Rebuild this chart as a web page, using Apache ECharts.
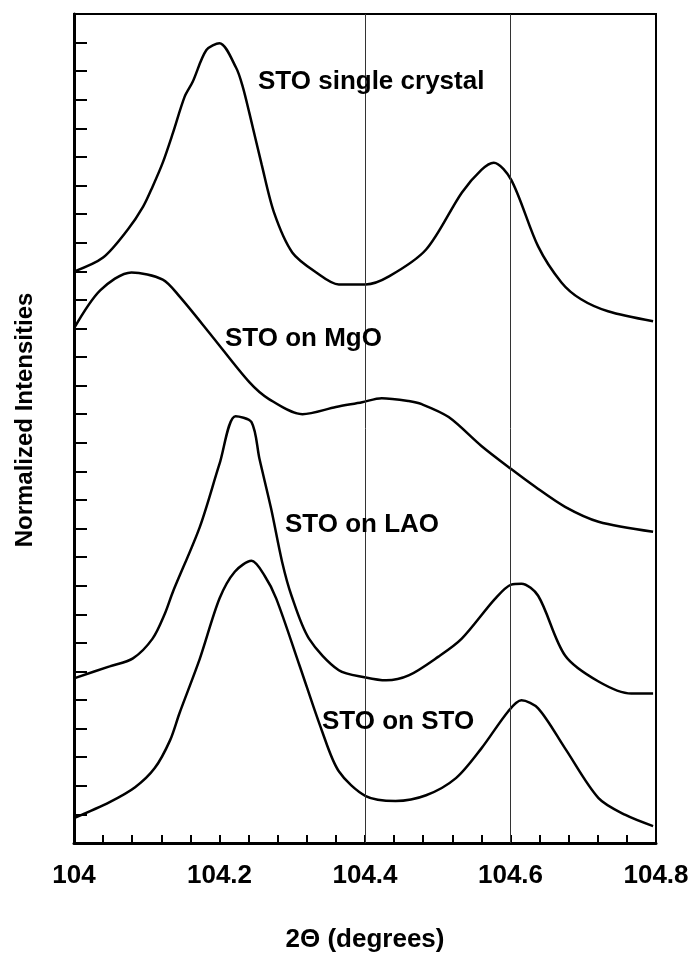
<!DOCTYPE html>
<html>
<head>
<meta charset="utf-8">
<script src="https://cdn.jsdelivr.net/npm/echarts@6/dist/echarts.min.js"></script>
<style>
html,body{margin:0;padding:0;background:#fff;}
#chart{width:692px;height:958px;}
</style>
</head>
<body>
<div id="chart"></div>
<script>
// 2-theta positions (degrees) and normalized intensities (arbitrary offset units)
var stoSingleX = [104.000,104.040,104.074,104.095,104.108,104.122,104.136,104.152,104.163,104.182,104.200,104.223,104.232,104.241,104.258,104.275,104.300,104.333,104.364,104.401,104.433,104.484,104.533,104.560,104.577,104.601,104.638,104.670,104.697,104.734,104.796];
var stoSingleY = [19.99,20.48,21.46,22.26,22.96,23.80,24.84,26.10,26.62,27.74,27.98,27.11,26.45,25.54,23.73,22.05,20.66,19.96,19.54,19.54,19.82,20.76,22.75,23.55,23.80,23.20,20.87,19.61,19.02,18.60,18.25];

var mgoX = [104.000,104.036,104.079,104.122,104.145,104.190,104.241,104.268,104.314,104.360,104.396,104.423,104.460,104.478,104.515,104.560,104.601,104.634,104.675,104.721,104.796];
var mgoY = [18.00,19.33,19.96,19.71,19.12,17.72,16.12,15.53,15.00,15.25,15.42,15.56,15.46,15.35,14.90,13.89,13.08,12.46,11.76,11.24,10.89];

var laoX = [104.000,104.049,104.081,104.108,104.125,104.136,104.173,104.200,104.222,104.244,104.255,104.271,104.286,104.299,104.323,104.364,104.401,104.429,104.460,104.501,104.533,104.579,104.601,104.615,104.638,104.675,104.721,104.766,104.796];
var laoY = [5.76,6.18,6.46,7.15,8.03,8.79,11.06,13.26,14.93,14.72,13.43,11.69,9.84,8.65,7.15,6.04,5.79,5.69,5.86,6.52,7.15,8.55,9.04,9.07,8.65,6.56,5.65,5.23,5.23];

var stoStoX = [104.000,104.049,104.084,104.111,104.132,104.145,104.173,104.200,104.221,104.244,104.262,104.278,104.310,104.341,104.364,104.401,104.442,104.484,104.525,104.560,104.597,104.615,104.638,104.675,104.721,104.758,104.796];
var stoStoY = [0.87,1.43,1.95,2.62,3.59,4.54,6.45,8.55,9.49,9.87,9.35,8.55,6.21,3.91,2.51,1.64,1.47,1.67,2.27,3.31,4.61,4.99,4.71,3.31,1.57,0.98,0.59];

var seriesNames = ['STO single crystal','STO on MgO','STO on LAO','STO on STO'];
var refLines = [104.4, 104.6];
var xTickLabels = ['104','104.2','104.4','104.6','104.8'];

function pairs(xs, ys){ return xs.map(function(x,i){ return [x, ys[i]]; }); }

var chart = echarts.init(document.getElementById('chart'), null, {renderer:'canvas'});

var lineStyle = {color:'#000', width:2.5};
var allData = [pairs(stoSingleX, stoSingleY), pairs(mgoX, mgoY), pairs(laoX, laoY), pairs(stoStoX, stoStoY)];
var series = allData.map(function(d, i){
  var s = {
    name: seriesNames[i], type:'line', data:d, showSymbol:false, symbol:'none',
    smooth:0.3, lineStyle:lineStyle, itemStyle:{color:'#000'}, z:3
  };
  if(i===0){
    s.markLine = {
      silent:true, symbol:'none', label:{show:false},
      lineStyle:{color:'#333', width:1, type:'solid'},
      data: refLines.map(function(v){ return {xAxis:v}; })
    };
  }
  return s;
});

var labelFont = 'bold 26px "Liberation Sans", Arial, sans-serif';
var textPos = [[258,84],[225,341],[285,527],[322,724]];

chart.setOption({
  animation:false,
  backgroundColor:'#fff',
  grid:{left:74, right:36, top:14, bottom:113, show:true, borderColor:'#000', borderWidth:2, backgroundColor:'transparent'},
  xAxis:{
    type:'value', min:104, max:104.8, interval:0.2,
    name:'2\u0398 (degrees)', nameLocation:'middle', nameGap:84,
    nameTextStyle:{fontFamily:'Liberation Sans', fontWeight:'bold', fontSize:26, color:'#000'},
    axisLine:{show:true, onZero:false, lineStyle:{color:'#000', width:3}},
    axisTick:{show:true, inside:true, length:8, lineStyle:{color:'#000', width:2}},
    minorTick:{show:true, splitNumber:5, length:8, lineStyle:{color:'#000', width:2}},
    splitLine:{show:false}, minorSplitLine:{show:false},
    axisLabel:{
      margin:20, fontFamily:'Liberation Sans', fontWeight:'bold', fontSize:26, color:'#000',
      formatter:function(v){ var k = Math.round((v-104)/0.2); return xTickLabels[k] || ''; }
    }
  },
  yAxis:{
    type:'value', min:0, max:29, interval:1,
    axisLine:{show:true, onZero:false, lineStyle:{color:'#000', width:3}},
    axisTick:{show:true, inside:true, length:13, lineStyle:{color:'#000', width:2}},
    axisLabel:{show:false}, splitLine:{show:false}
  },
  graphic: seriesNames.map(function(t,i){
    return {type:'text', left:textPos[i][0], top:textPos[i][1]-15, z:10,
      style:{text:t, font:labelFont, fill:'#000'}};
  }).concat([{
    type:'text', x:25, y:420, rotation:Math.PI/2, z:10,
    style:{text:'Normalized Intensities', font:'bold 24px "Liberation Sans", Arial, sans-serif', fill:'#000', align:'center', verticalAlign:'middle'}
  }]),
  series: series
});
</script>
</body>
</html>
